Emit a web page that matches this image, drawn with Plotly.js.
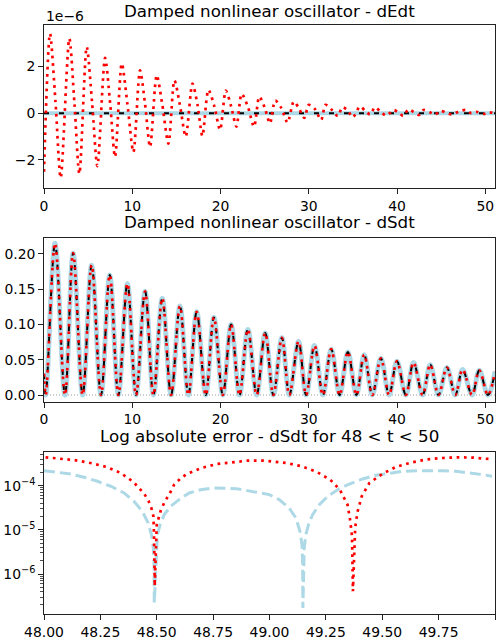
<!DOCTYPE html>
<html>
<head>
<meta charset="utf-8">
<script src="https://cdn.plot.ly/plotly-3.0.1.min.js"></script>
<style>html,body{margin:0;padding:0;background:#fff}#chart{width:498px;height:643px}</style>
</head>
<body>
<div id="chart"></div>
<script>
// ---------- Panel 1: dEdt (values in units of 1e-6) ----------
const tEdtRef = [0, 51.1];
const dEdtTrue = [0, 0];
const dEdtModel = [0, 0];
const tEdtNum = [0, 0.68, 1.3, 1.89, 2.87, 3.45, 4.01, 4.84, 5.45, 6.05, 6.92, 7.5, 8.05, 8.81, 9.45, 10.13,
  10.88, 11.45, 12.02, 12.77, 13.4, 14.1, 14.78, 15.4, 16.06, 16.82, 17.4, 17.95, 18.63, 19.3, 19.95,
  20.6, 21.2, 21.8, 22.4, 23.1, 23.8, 24.4, 25.0, 25.6, 26.2, 26.9, 27.6, 28.3, 28.9, 29.5, 30.0, 30.7,
  31.4, 31.9, 32.6, 33.3, 33.8, 34.4, 35.0, 35.8, 36.4, 36.96, 37.5, 38.1, 38.8, 39.6, 40.1, 40.7, 41.3,
  41.9, 42.5, 43.0, 43.7, 44.3, 44.9, 45.5, 46.2, 47.0, 47.8, 48.4, 49.0, 49.8, 50.4, 51.1];
const dEdtNum = [-2.5, 3.41, 0.5, -2.77, 3.2, 0.42, -2.59, 2.84, 0.45, -2.26, 2.37, 0.4, -1.87, 2.13, 0.4, -1.66,
  1.84, 0.4, -1.44, 1.63, 0.38, -1.3, 1.41, 0.35, -1.0, 1.27, 0.35, -0.97, 1.0, 0.3, -0.71,
  0.97, 0.3, -0.57, 0.83, 0.28, -0.57, 0.71, 0.25, -0.43, 0.54, 0.22, -0.4, 0.5, 0.2, -0.2, 0.36, 0.18,
  -0.29, 0.36, 0.15, -0.12, 0.26, 0.12, -0.17, 0.29, 0.1, -0.05, 0.26, 0.08, -0.1, 0.14, 0.05, -0.11, 0.17,
  0.05, -0.07, 0.14, 0.04, -0.06, 0.11, 0.03, -0.05, 0.08, 0.14, 0.0, 0.06, -0.03, 0.04, 0.0];
const edtTickVals = [-2, 0, 2];
const edtTickText = ['\u22122', '0', '2'];

// ---------- Panel 2: dSdt (extrema) ----------
const tSdt = [0, 0.2, 1.25, 2.38, 3.3, 4.38, 5.4, 6.46, 7.45, 8.43, 9.45, 10.43, 11.45, 12.4, 13.4, 14.4, 15.4,
  16.36, 17.3, 18.33, 19.25, 20.26, 21.2, 22.15, 23.1, 24.1, 25.06, 25.99, 26.95, 27.8, 28.84, 29.7, 30.65,
  31.6, 32.54, 33.5, 34.43, 35.4, 36.28, 37.2, 38.17, 39.1, 39.99, 41.0, 41.87, 42.9, 43.76, 44.7, 45.65,
  46.6, 47.43, 48.5, 49.32, 50.3, 51.1];
const dSdtTrue = [0.03, 0, 0.215, 0, 0.201, 0, 0.184, 0, 0.170, 0, 0.158, 0, 0.147, 0, 0.137, 0, 0.126,
  0, 0.118, 0, 0.110, 0, 0.100, 0, 0.093, 0, 0.088, 0, 0.081, 0, 0.076, 0, 0.070,
  0, 0.065, 0, 0.061, 0, 0.057, 0, 0.052, 0, 0.048, 0, 0.046, 0, 0.043, 0, 0.039,
  0, 0.036, 0, 0.035, 0, 0.033];
const dSdtModel = dSdtTrue;
const dSdtNum = dSdtTrue;
const zeroX = [0, 51.1];
const zeroY = [0, 0];
const tSdtTicks = [0, 10, 20, 30, 40, 50];

// ---------- Panel 3: log absolute error, 48 < t < 50 ----------
const tErrNum = [48.007, 48.074, 48.142, 48.212, 48.278, 48.340, 48.397, 48.444, 48.463, 48.476, 48.485,
  48.488, 48.491, 48.491, 48.500, 48.507, 48.518, 48.536, 48.555, 48.577, 48.607, 48.636, 48.703, 48.769,
  48.836, 48.902, 48.974, 49.006, 49.076, 49.144, 49.210, 49.269, 49.312, 49.346, 49.358, 49.366, 49.369,
  49.370, 49.380, 49.391, 49.409, 49.443, 49.502, 49.564, 49.632, 49.699, 49.768, 49.835, 49.904, 49.972];
const errNum = [4.39e-4, 4.09e-4, 3.75e-4, 3.21e-4, 2.65e-4, 1.94e-4, 1.21e-4, 6.6e-5, 4.58e-5, 3.13e-5, 2.03e-5,
  7.8e-6, 1.63e-6, 5.3e-7, 1.31e-5, 1.86e-5, 2.77e-5, 4.43e-5, 6.27e-5, 1.05e-4, 1.49e-4, 1.87e-4, 2.56e-4, 3.10e-4,
  3.44e-4, 3.68e-4, 3.68e-4, 3.56e-4, 3.26e-4, 2.74e-4, 2.04e-4, 1.37e-4, 8.1e-5, 3.72e-5, 1.62e-5, 7.15e-6, 1.63e-6,
  4.07e-7, 1.14e-5, 2.63e-5, 5.75e-5, 1.15e-4, 1.87e-4, 2.70e-4, 3.38e-4, 3.95e-4, 4.23e-4, 4.38e-4, 4.31e-4, 4.02e-4];
const tErrModel = [48.000, 48.059, 48.118, 48.178, 48.237, 48.296, 48.355, 48.399, 48.436, 48.462, 48.476, 48.485,
  48.488, 48.489, 48.503, 48.515, 48.533, 48.562, 48.599, 48.644, 48.695, 48.747, 48.799, 48.851, 48.902, 48.954,
  48.999, 49.043, 49.087, 49.117, 49.135, 49.144, 49.147, 49.148, 49.154, 49.161, 49.173, 49.191, 49.221, 49.258,
  49.302, 49.354, 49.413, 49.472, 49.531, 49.591, 49.650, 49.709, 49.768, 49.827, 49.886, 49.946, 49.987];
const errModel = [2.19e-4, 2.04e-4, 1.84e-4, 1.55e-4, 1.26e-4, 9.7e-5, 6.84e-5, 4.43e-5, 2.63e-5, 1.43e-5, 7.8e-6, 3.9e-6,
  1.63e-6, 2.22e-7, 7.8e-6, 1.31e-5, 2.21e-5, 3.41e-5, 4.83e-5, 6.84e-5, 8.1e-5, 8.87e-5, 8.87e-5, 8.57e-5, 7.72e-5, 6.84e-5,
  6.27e-5, 4.83e-5, 3.13e-5, 1.86e-5, 9.3e-6, 4.63e-6, 1.63e-6, 1.71e-7, 3.9e-6, 7.8e-6, 1.31e-5, 2.21e-5, 3.72e-5, 5.75e-5,
  8.1e-5, 1.09e-4, 1.42e-4, 1.72e-4, 1.94e-4, 2.11e-4, 2.19e-4, 2.23e-4, 2.19e-4, 2.11e-4, 1.97e-4, 1.78e-4, 1.63e-4];
const errTickVals = [1e-6, 1e-5, 1e-4];
const errTickText = ['10<sup>\u22126</sup>', '10<sup>\u22125</sup>', '10<sup>\u22124</sup>'];

// ---------- Styles ----------
const FONT = 'DejaVu Sans, sans-serif';
const BLUE = '#add8e6';
const RED = '#ff0000';
const redDot = {color: RED, width: 2.7, dash: '2.7px,4.6px'};
const blackDash = {color: '#000000', width: 2, dash: '5px,10px'};

const traces = [
  // panel 1
  {x: tEdtRef, y: dEdtTrue, xaxis: 'x', yaxis: 'y', mode: 'lines', line: {color: BLUE, width: 4}},
  {x: tEdtRef, y: dEdtModel, xaxis: 'x', yaxis: 'y', mode: 'lines', line: blackDash},
  {x: tEdtNum, y: dEdtNum, xaxis: 'x', yaxis: 'y', mode: 'lines', line: Object.assign({shape: 'spline', smoothing: 0.8}, redDot)},
  // panel 2
  {x: zeroX, y: zeroY, xaxis: 'x2', yaxis: 'y2', mode: 'lines', line: {color: '#999999', width: 1, dash: '1px,2px'}},
  {x: tSdt, y: dSdtTrue, xaxis: 'x2', yaxis: 'y2', mode: 'lines', line: {color: BLUE, width: 5, shape: 'spline', smoothing: 1}},
  {x: tSdt, y: dSdtModel, xaxis: 'x2', yaxis: 'y2', mode: 'lines', line: Object.assign({shape: 'spline', smoothing: 1}, blackDash)},
  {x: tSdt, y: dSdtNum, xaxis: 'x2', yaxis: 'y2', mode: 'lines', line: Object.assign({shape: 'spline', smoothing: 1}, redDot)},
  // panel 3
  {x: tErrModel, y: errModel, xaxis: 'x3', yaxis: 'y3', mode: 'lines', line: {color: BLUE, width: 3, dash: '11px,5px'}},
  {x: tErrNum, y: errNum, xaxis: 'x3', yaxis: 'y3', mode: 'lines', line: redDot}
];

const axBase = {
  showgrid: false, zeroline: false, showline: true, linecolor: '#222', linewidth: 1, mirror: true,
  ticks: 'outside', ticklen: 4.9, tickwidth: 1, tickcolor: '#222',
  tickfont: {family: FONT, size: 13.9, color: '#000'}
};
function ax(extra) { return Object.assign({}, axBase, extra); }

const H = 643;
function py(px) { return 1 - px / H; }

const layout = {
  width: 498, height: 643,
  margin: {l: 44, r: 3, t: 0, b: 0},
  paper_bgcolor: '#fff', plot_bgcolor: '#fff',
  showlegend: false,
  font: {family: FONT, color: '#000'},
  xaxis: ax({domain: [0, 1], range: [0, 51.1], tickvals: tSdtTicks, anchor: 'y'}),
  yaxis: ax({domain: [py(188), py(25)], range: [-3.2, 3.78], tickvals: edtTickVals, ticktext: edtTickText, anchor: 'x'}),
  xaxis2: ax({domain: [0, 1], range: [0, 51.1], tickvals: tSdtTicks, anchor: 'y2'}),
  yaxis2: ax({domain: [py(401.7), py(237.7)], range: [-0.0095, 0.223], dtick: 0.05, tick0: 0, tickformat: '.2f', anchor: 'x2'}),
  xaxis3: ax({domain: [0, 1], range: [48, 50], dtick: 0.25, tick0: 48, tickformat: '.2f', anchor: 'y3'}),
  yaxis3: ax({domain: [py(614.3), py(451.7)], type: 'log', range: [-6.912, -3.231], tickvals: errTickVals, ticktext: errTickText, anchor: 'x3',
    minor: {ticks: 'outside', ticklen: 2.8, tickwidth: 0.8, tickcolor: '#222', dtick: 'D1', showgrid: false}}),
  annotations: [
    {text: 'Damped nonlinear oscillator - dEdt', xref: 'paper', yref: 'paper', x: 0.5, y: py(11), xanchor: 'center', yanchor: 'middle', showarrow: false, font: {family: FONT, size: 16.7, color: '#000'}},
    {text: 'Damped nonlinear oscillator - dSdt', xref: 'paper', yref: 'paper', x: 0.5, y: py(222), xanchor: 'center', yanchor: 'middle', showarrow: false, font: {family: FONT, size: 16.7, color: '#000'}},
    {text: 'Log absolute error - dSdt for 48 &lt; t &lt; 50', xref: 'paper', yref: 'paper', x: 0.5, y: py(436), xanchor: 'center', yanchor: 'middle', showarrow: false, font: {family: FONT, size: 16.7, color: '#000'}},
    {text: '1e\u22126', xref: 'paper', yref: 'paper', x: 0, y: py(15.5), xanchor: 'left', yanchor: 'middle', showarrow: false, font: {family: FONT, size: 13.9, color: '#000'}}
  ]
};

Plotly.newPlot('chart', traces, layout, {displayModeBar: false, staticPlot: true});
</script>
</body>
</html>
